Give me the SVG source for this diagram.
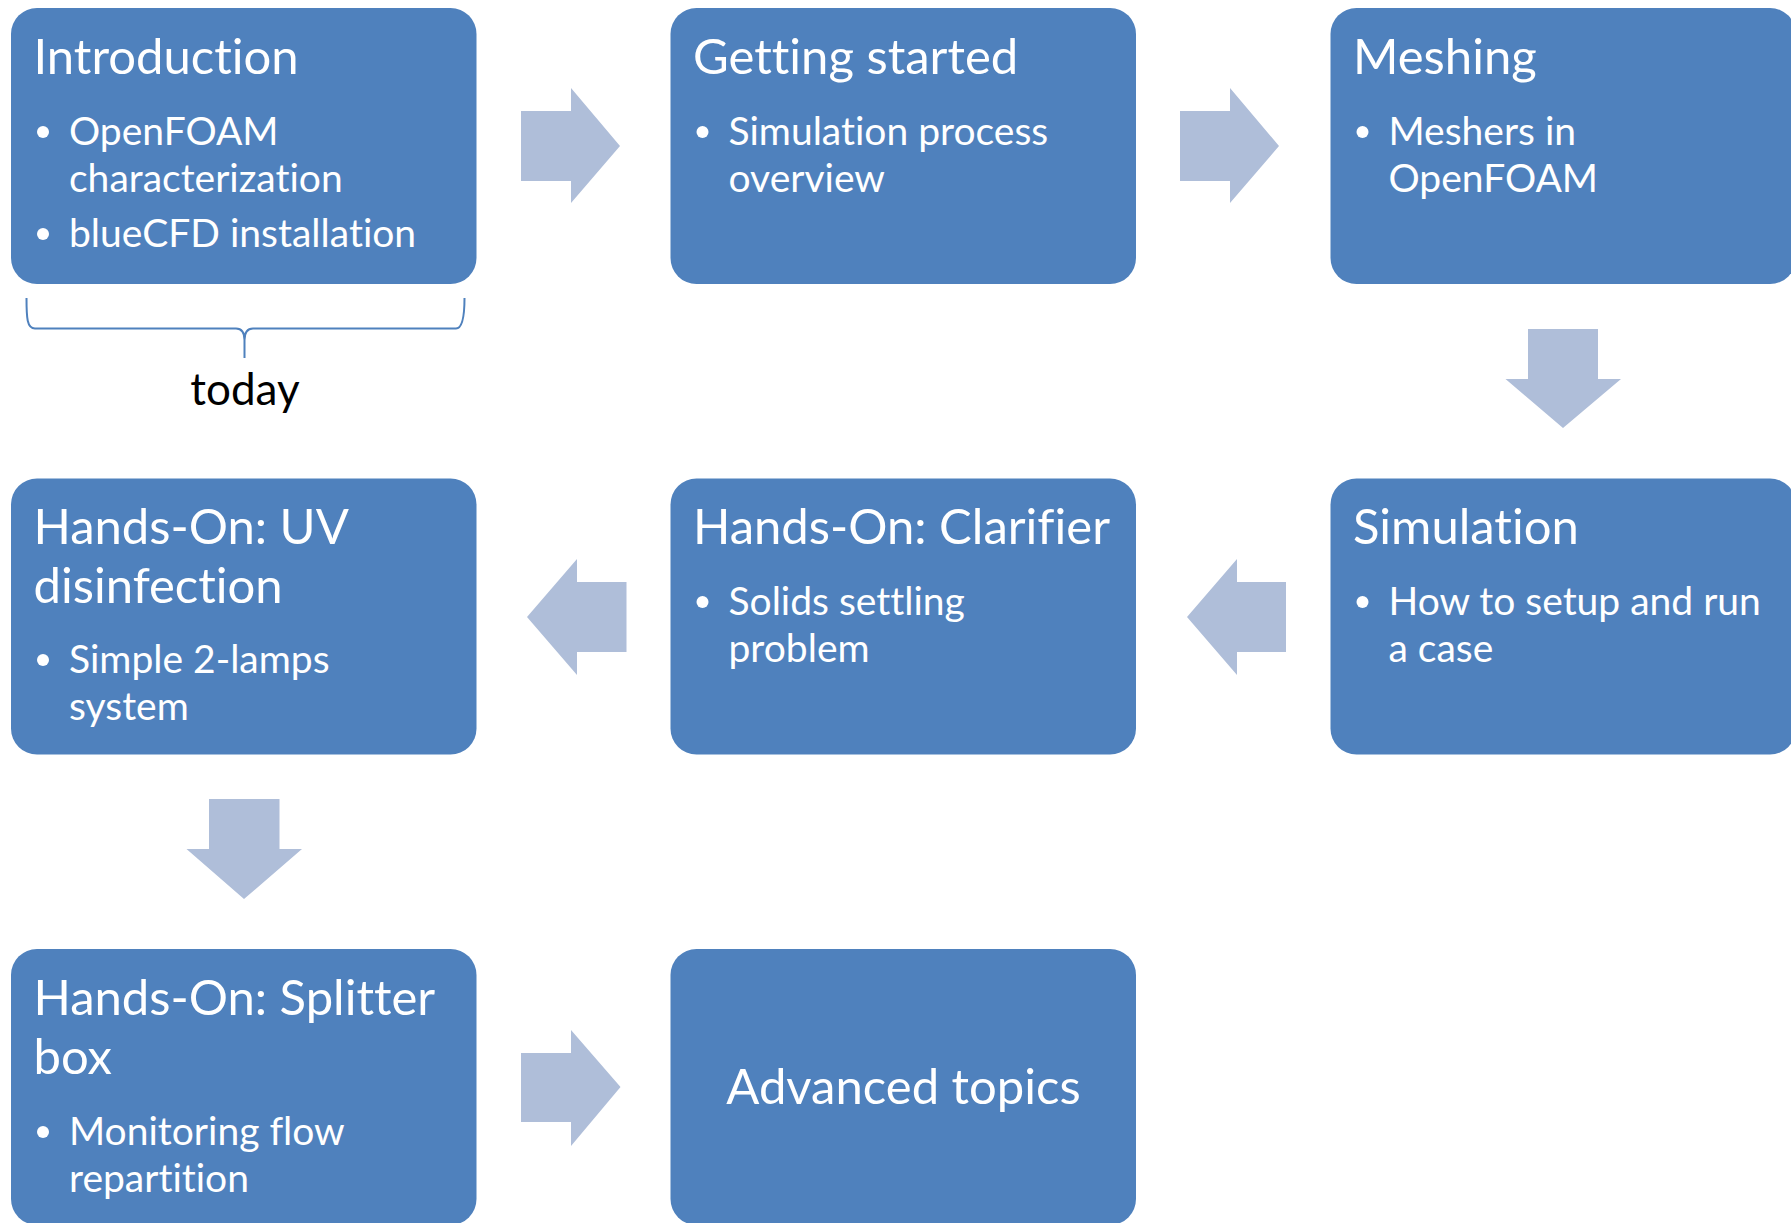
<svg xmlns="http://www.w3.org/2000/svg" width="1791" height="1223" viewBox="0 0 1791 1223">
<style>
.box{fill:#4F81BD;}
.arr{fill:#AFBED9;}
text{font-variant-ligatures:none;font-feature-settings:"liga" 0,"clig" 0;}
.t{font-family:Lato,"Liberation Sans",sans-serif;fill:#FFFFFF;font-size:49px;}
.b{font-family:Lato,"Liberation Sans",sans-serif;fill:#FFFFFF;font-size:39px;}
.dot{fill:#FFFFFF;}
.today{font-family:Lato,"Liberation Sans",sans-serif;fill:#000000;font-size:44px;}
</style>
<rect width="1791" height="1223" fill="#FFFFFF"/>
<g id="connectors">
<polygon class="arr" points="521,111 571,111 571,88 620,146 571,203 571,181 521,181"/>
<polygon class="arr" points="1180,111 1230,111 1230,88 1279,146 1230,203 1230,181 1180,181"/>
<polygon class="arr" points="1528,329 1598,329 1598,379 1621,379 1563,428 1505.5,379 1528,379"/>
<polygon class="arr" points="1286,582 1237,582 1237,559 1187,617 1237,675 1237,652 1286,652"/>
<polygon class="arr" points="626.5,582 577,582 577,559 527,617 577,675 577,652 626.5,652"/>
<polygon class="arr" points="209,799 279.5,799 279.5,849 302,849 244,899 186.5,849 209,849"/>
<polygon class="arr" points="521,1053 571,1053 571,1030 620.5,1087 571,1146 571,1122 521,1122"/>
</g>
<g id="introduction">
<rect class="box" x="11" y="8" width="465.5" height="276" rx="26"/>
<text class="t" x="33.5" y="74">Introduction</text>
<circle class="dot" cx="43" cy="132" r="6"/>
<text class="b" x="69" y="145">OpenFOAM</text>
<text class="b" x="69" y="192">characterization</text>
<circle class="dot" cx="43" cy="234" r="6"/>
<text class="b" x="69" y="247">blueCFD installation</text>
</g>
<g id="today-brace">
<path d="M26.5,298 C26.5,318 27,328.5 35,328.5 L236,328.5 C242,328.5 244.5,332 244.5,340 L244.5,358 M244.5,340 C244.5,332 247,328.5 253,328.5 L456,328.5 C462,328.5 464.5,318 464.5,298" fill="none" stroke="#4F81BD" stroke-width="2"/>
<text class="today" x="245" y="405" text-anchor="middle">today</text>
</g>
<g id="getting-started">
<rect class="box" x="670.5" y="8" width="465.5" height="276" rx="26"/>
<text class="t" x="693" y="74">Getting started</text>
<circle class="dot" cx="702.5" cy="132" r="6"/>
<text class="b" x="728.5" y="145">Simulation process</text>
<text class="b" x="728.5" y="192">overview</text>
</g>
<g id="meshing">
<rect class="box" x="1330.5" y="8" width="465.5" height="276" rx="26"/>
<text class="t" x="1353" y="74">Meshing</text>
<circle class="dot" cx="1362.5" cy="132" r="6"/>
<text class="b" x="1388.5" y="145">Meshers in</text>
<text class="b" x="1388.5" y="192">OpenFOAM</text>
</g>
<g id="simulation">
<rect class="box" x="1330.5" y="478.5" width="465.5" height="276" rx="26"/>
<text class="t" x="1353" y="544">Simulation</text>
<circle class="dot" cx="1362.5" cy="602" r="6"/>
<text class="b" x="1388.5" y="615">How to setup and run</text>
<text class="b" x="1388.5" y="662">a case</text>
</g>
<g id="clarifier">
<rect class="box" x="670.5" y="478.5" width="465.5" height="276" rx="26"/>
<text class="t" x="693" y="544">Hands-On: Clarifier</text>
<circle class="dot" cx="702.5" cy="602" r="6"/>
<text class="b" x="728.5" y="615">Solids settling</text>
<text class="b" x="728.5" y="662">problem</text>
</g>
<g id="uv-disinfection">
<rect class="box" x="11" y="478.5" width="465.5" height="276" rx="26"/>
<text class="t" x="33.5" y="544">Hands-On: UV</text>
<text class="t" x="33.5" y="603">disinfection</text>
<circle class="dot" cx="43" cy="660" r="6"/>
<text class="b" x="69" y="673">Simple 2-lamps</text>
<text class="b" x="69" y="720">system</text>
</g>
<g id="splitter-box">
<rect class="box" x="11" y="949" width="465.5" height="276" rx="26"/>
<text class="t" x="33.5" y="1015">Hands-On: Splitter</text>
<text class="t" x="33.5" y="1074">box</text>
<circle class="dot" cx="43" cy="1132" r="6"/>
<text class="b" x="69" y="1145">Monitoring flow</text>
<text class="b" x="69" y="1192">repartition</text>
</g>
<g id="advanced-topics">
<rect class="box" x="670.5" y="949" width="465.5" height="276" rx="26"/>
<text class="t" x="903.5" y="1104" text-anchor="middle">Advanced topics</text>
</g>
</svg>
